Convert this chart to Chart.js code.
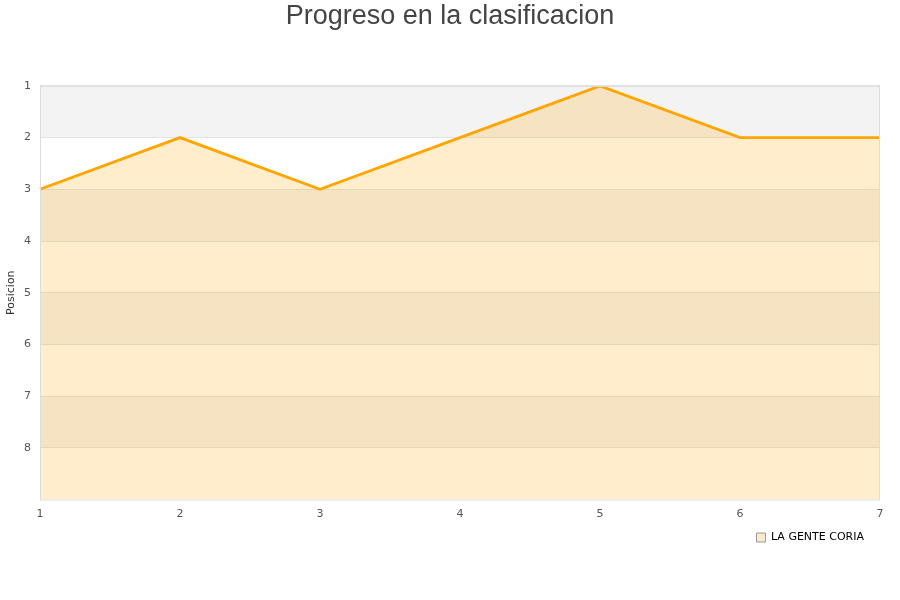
<!DOCTYPE html>
<html>
  <head>
    <meta charset="UTF-8">
    <title>Progreso en la clasificacion</title>
    <script src="https://cdn.jsdelivr.net/npm/chart.js@4"></script>
    <style>
      html, body { margin: 0; padding: 0; background: #fff; }
    </style>
  </head>
  <body>
    <canvas id='progressChart' width='900' height='600'></canvas>

    <script>
      const jornadas = ['1', '2', '3', '4', '5', '6', '7'];
      const posiciones = [3, 2, 3, 2, 1, 2, 2];
      const teamName = 'LA GENTE CORIA';
      const posMin = 1;
      const posMax = 9;

      // alternating grey / white bands behind the plot, thin frame on top
      const bandsPlugin = {
        id: 'bands',
        afterLayout(chart) {
          // the x axis is kept short so the legend sits close; let its labels overflow
          chart.scales.x.bottom += 12;
        },
        beforeDraw(chart) {
          let ctx = chart.ctx;
          let area = chart.chartArea;
          let y = chart.scales.y;
          ctx.save();
          for (let v = posMin; v < posMax; v++) {
            let top = y.getPixelForValue(v);
            let bottom = y.getPixelForValue(v + 1);
            ctx.fillStyle = (v % 2 == 1) ? '#f3f3f3' : '#ffffff';
            ctx.fillRect(area.left, top, area.right - area.left, bottom - top);
          }
          ctx.restore();
        },
        afterDraw(chart) {
          let ctx = chart.ctx;
          let area = chart.chartArea;
          ctx.save();
          ctx.strokeStyle = '#dddddd';
          ctx.lineWidth = 1;
          ctx.strokeRect(area.left + 0.5, area.top + 0.5, area.right - area.left - 1, area.bottom - area.top);
          ctx.restore();
        }
      };

      const ctx = document.getElementById('progressChart').getContext('2d');

      let progressChart = new Chart(ctx, {
        type: 'line',
        data: {
          labels: jornadas,
          datasets: [{
            label: teamName,
            data: posiciones,
            borderColor: '#ffa500',
            backgroundColor: 'rgba(255, 165, 0, 0.2)',
            borderWidth: 2.8,
            fill: { value: posMax },
            pointRadius: 0,
            tension: 0
          }]
        },
        options: {
          responsive: false,
          animation: false,
          layout: {
            padding: { left: 0, right: 0, top: 0, bottom: 47 }
          },
          plugins: {
            title: {
              display: true,
              text: 'Progreso en la clasificacion',
              color: '#444444',
              font: { family: 'Liberation Sans', size: 27, weight: 'normal' },
              padding: { top: 0, bottom: 53.5 }
            },
            legend: {
              position: 'bottom',
              align: 'end',
              fullSize: false,
              labels: {
                color: '#000000',
                font: { family: 'DejaVu Sans', size: 11 },
                boxWidth: 9,
                boxHeight: 9,
                padding: 16,
                generateLabels(chart) {
                  return [{
                    text: teamName,
                    fillStyle: '#ffe9c6',
                    strokeStyle: '#999999',
                    lineWidth: 1,
                    datasetIndex: 0
                  }];
                }
              }
            },
            tooltip: { enabled: false }
          },
          scales: {
            x: {
              offset: false,
              afterFit(scale) { scale.height = 16.5; },
              grid: { display: false, drawTicks: false },
              border: { display: false },
              ticks: {
                color: '#555555',
                font: { family: 'DejaVu Sans', size: 11 },
                padding: 8,
                maxRotation: 0
              }
            },
            y: {
              reverse: true,
              min: posMin,
              max: posMax,
              afterFit(scale) { scale.width = 40; },
              afterBuildTicks(scale) {
                scale.ticks = scale.ticks.filter(t => t.value < posMax);
              },
              grid: { color: '#e2e2e2', drawTicks: false },
              border: { display: false },
              ticks: {
                stepSize: 1,
                color: '#555555',
                font: { family: 'DejaVu Sans', size: 11 },
                padding: 9
              },
              title: {
                display: true,
                text: 'Posicion',
                color: '#333333',
                font: { family: 'DejaVu Sans', size: 11 },
                padding: { top: 5, bottom: 0 }
              }
            },
            yRight: {
              type: 'linear',
              position: 'right',
              min: 0,
              max: 1,
              afterFit(scale) { scale.width = 20; },
              grid: { display: false, drawTicks: false },
              border: { display: false },
              ticks: { display: false }
            }
          }
        },
        plugins: [bandsPlugin]
      });
    </script>
  </body>
</html>
